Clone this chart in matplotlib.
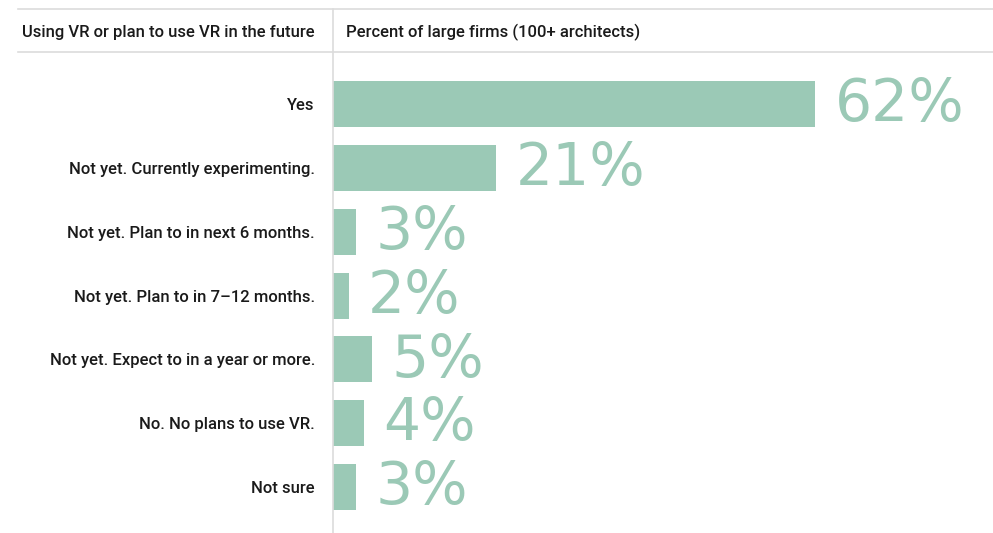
import numpy as np
import matplotlib.pyplot as plt
from matplotlib.lines import Line2D

# %% Data
answers = [
    "Yes",
    "Not yet. Currently experimenting.",
    "Not yet. Plan to in next 6 months.",
    "Not yet. Plan to in 7\u201312 months.",
    "Not yet. Expect to in a year or more.",
    "No. No plans to use VR.",
    "Not sure",
]
percent = [62, 21, 3, 2, 5, 4, 3]

header_left = "Using VR or plan to use VR in the future"
header_right = "Percent of large firms (100+ architects)"

bar_color = "#9bc9b6"
line_color = "#dcdcdc"
text_color = "#1a1a1a"

plt.rcParams['font.family'] = ['Roboto', 'DejaVu Sans']

# %% Figure
W, H = 993, 533
fig = plt.figure(figsize=(W / 100, H / 100), dpi=100)
ax = fig.add_axes([333 / W, 0, 1 - 333 / W, (H - 52) / H])

y = np.arange(len(answers))
ax.barh(y, percent, height=0.72, color=bar_color, left=0)

ax.set_xlim(0, (W - 333) / 7.78)
ax.set_ylim(6.72, -0.815)

ax.set_yticks(y)
ax.set_yticklabels(answers, fontsize=12, color=text_color, fontweight='medium')
ax.tick_params(axis='y', length=0, pad=13)
ax.set_xticks([])
for s in ax.spines.values():
    s.set_visible(False)

# big value labels, baseline a little above the bar bottom
for yi, v in zip(y, percent):
    ax.annotate(f"{v}%", xy=(v, yi + 0.27), xytext=(14, 0), textcoords='offset points',
                ha='left', va='baseline', fontsize=42, color=bar_color,
                family='DejaVu Sans', fontweight='normal')

# header rules and divider
fig.add_artist(Line2D([18 / W, 1], [1 - 9 / H, 1 - 9 / H], color=line_color, lw=1.2))
fig.add_artist(Line2D([18 / W, 1], [1 - 52 / H, 1 - 52 / H], color=line_color, lw=1.2))
fig.add_artist(Line2D([333 / W, 333 / W], [0, 1 - 9 / H], color=line_color, lw=1.2))

fig.text(22 / W, 1 - 32 / H, header_left, fontsize=12, color=text_color,
         va='center', ha='left', fontweight='medium')
fig.text(346 / W, 1 - 32 / H, header_right, fontsize=12, color=text_color,
         va='center', ha='left', fontweight='medium')

fig.savefig("out.png", dpi=100)
